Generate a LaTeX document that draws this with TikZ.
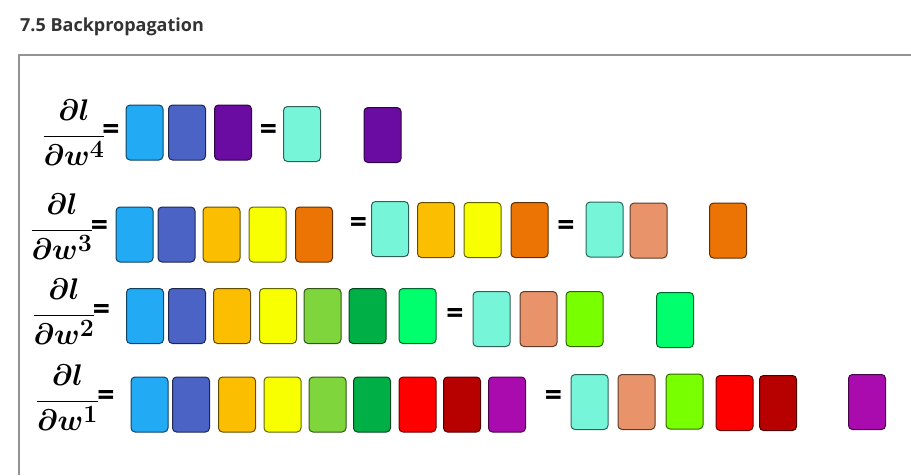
\documentclass[tikz,border=0pt]{standalone}
\usepackage{fontspec}
\newfontfamily\headfont{Open Sans}
\definecolor{sky}{HTML}{22AAF5}
\definecolor{royal}{HTML}{4A63C5}
\definecolor{grape}{HTML}{6A0CA2}
\definecolor{aqua}{HTML}{76F5D9}
\definecolor{amber}{HTML}{FBBE00}
\definecolor{lemon}{HTML}{F8FF00}
\definecolor{tang}{HTML}{EC7405}
\definecolor{salmon}{HTML}{E8936A}
\definecolor{lime}{HTML}{7ED63C}
\definecolor{leaf}{HTML}{00B046}
\definecolor{spring}{HTML}{00FF6C}
\definecolor{chart}{HTML}{78FF00}
\definecolor{ruby}{HTML}{FF0000}
\definecolor{maroon}{HTML}{B70000}
\definecolor{plum}{HTML}{A90BAE}
\definecolor{ink}{HTML}{333333}
\newcommand{\dldw}[1]{\scalebox{1.2}{\boldmath$\displaystyle\frac{\partial l}{\partial w^{#1}}$}}
\tikzset{
  cell/.style={draw=#1!40!black, fill=#1, rounded corners=4pt, line width=1pt,
    minimum width=37pt, minimum height=55pt, inner sep=0pt},
  eqsign/.style={font=\headfont\bfseries\fontsize{30}{30}\selectfont, inner sep=0pt},
  lossfrac/.style={font=\fontsize{24.88}{30}\selectfont, inner sep=0pt}
}
\begin{document}
\begin{tikzpicture}[x=1pt,y=-1pt]
\useasboundingbox (0,0) rectangle (911,475);
% heading and frame
\node[anchor=west, font=\headfont\bfseries\fontsize{18}{21}\selectfont, text=ink, inner sep=0pt] (head) at (20,27) {7.5 Backpropagation};
\draw[gray!85, line width=1.2pt] (911,55) -- (19,55) -- (19,475);
% row for w4
\node[lossfrac] (g4) at (74,133) {\dldw{4}};
\node[eqsign] (g4eq) at (111,132) {=};
\node[cell=sky] (w4a) at (144.5,132.5) {};
\node[cell=royal] (w4b) at (187,132.5) {};
\node[cell=grape] (w4c) at (233,132.5) {};
\node[eqsign] (w4eq) at (268.5,132) {=};
\node[cell=aqua] (w4d) at (302,134) {};
\node[cell=grape] (w4e) at (382.5,135) {};
% row for w3
\node[lossfrac] (g3) at (62,227) {\dldw{3}};
\node[eqsign] (g3eq) at (99.5,228) {=};
\node[cell=sky] (w3a) at (134.5,234.5) {};
\node[cell=royal] (w3b) at (176.5,234.5) {};
\node[cell=amber] (w3c) at (221.5,234.5) {};
\node[cell=lemon] (w3d) at (267.5,234.5) {};
\node[cell=tang] (w3e) at (314,234.5) {};
\node[eqsign] (w3eq) at (358.5,225) {=};
\node[cell=aqua] (w3f) at (390,229) {};
\node[cell=amber] (w3g) at (436,230) {};
\node[cell=lemon] (w3h) at (482.5,230) {};
\node[cell=tang] (w3i) at (529.5,230) {};
\node[eqsign] (w3eq2) at (566,228) {=};
\node[cell=aqua] (w3j) at (604.5,229.5) {};
\node[cell=salmon] (w3k) at (648.5,230.5) {};
\node[cell=tang] (w3l) at (728,230.5) {};
% row for w2
\node[lossfrac] (g2) at (64,312) {\dldw{2}};
\node[eqsign] (g2eq) at (101.5,312) {=};
\node[cell=sky] (w2a) at (145,316) {};
\node[cell=royal] (w2b) at (187,316) {};
\node[cell=amber] (w2c) at (232,316) {};
\node[cell=lemon] (w2d) at (278,316) {};
\node[cell=lime] (w2e) at (322.5,316) {};
\node[cell=leaf] (w2f) at (367.5,316) {};
\node[cell=spring] (w2g) at (417.5,316) {};
\node[eqsign] (w2eq) at (455,316) {=};
\node[cell=aqua] (w2h) at (491.5,319) {};
\node[cell=salmon] (w2i) at (538.5,319) {};
\node[cell=chart] (w2j) at (584.5,319) {};
\node[cell=spring] (w2k) at (675,320) {};
% row for w1
\node[lossfrac] (g1) at (67.5,398) {\dldw{1}};
\node[eqsign] (g1eq) at (106,397.5) {=};
\node[cell=sky] (w1a) at (149.5,404.5) {};
\node[cell=royal] (w1b) at (191,404.5) {};
\node[cell=amber] (w1c) at (237,404.5) {};
\node[cell=lemon] (w1d) at (282.5,404.5) {};
\node[cell=lime] (w1e) at (327.5,404.5) {};
\node[cell=leaf] (w1f) at (372,404.5) {};
\node[cell=ruby] (w1g) at (417.5,404.5) {};
\node[cell=maroon] (w1h) at (462,404.5) {};
\node[cell=plum] (w1i) at (507,404.5) {};
\node[eqsign] (w1eq) at (553.5,398) {=};
\node[cell=aqua] (w1j) at (589.5,402) {};
\node[cell=salmon] (w1k) at (636.5,402) {};
\node[cell=chart] (w1l) at (684.5,401.5) {};
\node[cell=ruby] (w1m) at (734.5,403) {};
\node[cell=maroon] (w1n) at (778,403) {};
\node[cell=plum] (w1o) at (867,402) {};
\end{tikzpicture}
\end{document}
